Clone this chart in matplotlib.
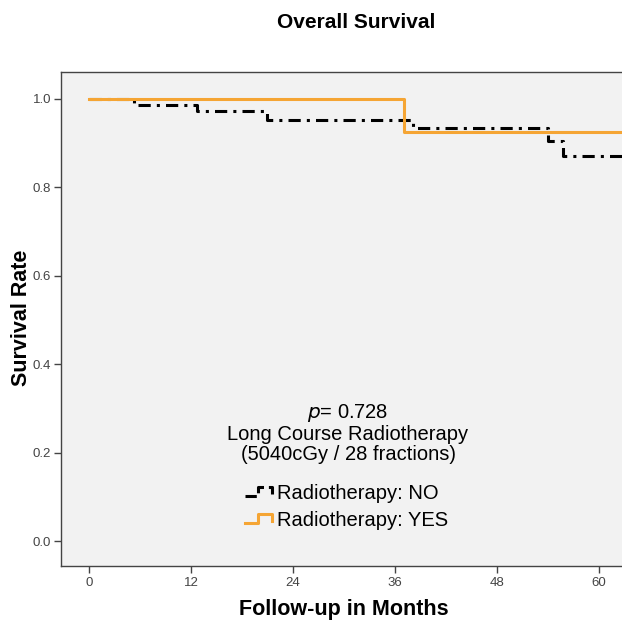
import matplotlib
matplotlib.use('Agg')
import matplotlib.pyplot as plt
from matplotlib.lines import Line2D
from matplotlib.legend_handler import HandlerBase

plt.rcParams['font.family'] = ['Liberation Sans', 'DejaVu Sans']

# Kaplan-Meier step data (months, survival)
no_times = [0, 5.3, 12.7, 20.9, 38.1, 54.0, 55.8, 70]
no_surv = [1.0, 0.986, 0.973, 0.952, 0.933, 0.903, 0.870, 0.870]

yes_times = [0, 37.1, 70]
yes_surv = [1.0, 0.924, 0.924]

x_ticks = [0, 12, 24, 36, 48, 60]
y_ticks = [0.0, 0.2, 0.4, 0.6, 0.8, 1.0]

p_text = '$\\it{p}$= 0.728'
note_lines = ['Long Course Radiotherapy', '(5040cGy / 28 fractions)']
group_labels = ['Radiotherapy: NO', 'Radiotherapy: YES']

orange = '#F5A534'


class StepHandler(HandlerBase):
    # draws the little step glyph used in the legend
    def create_artists(self, legend, orig_handle, xdescent, ydescent,
                       width, height, fontsize, trans):
        x0 = -xdescent
        y0 = -ydescent
        xs = [x0, x0 + 0.5 * width, x0 + 0.5 * width, x0 + width, x0 + width]
        ys = [y0 + 0.2 * height, y0 + 0.2 * height, y0 + 0.85 * height,
              y0 + 0.85 * height, y0 + 0.35 * height]
        ln = Line2D(xs, ys, color=orig_handle.get_color(),
                    linestyle=orig_handle.get_linestyle(),
                    linewidth=orig_handle.get_linewidth(), transform=trans)
        return [ln]


fig = plt.figure(figsize=(6.22, 6.24), dpi=100)
ax = fig.add_axes([61 / 622, 1 - 565.5 / 624, 1 - 61 / 622 + 0.01, (565.5 - 72) / 624])
ax.set_facecolor('#F2F2F2')

no_line, = ax.step(no_times, no_surv, where='post', color='black', linewidth=2.2,
                   linestyle=(0, (4, 2, 1, 2)), zorder=2)
yes_line, = ax.step(yes_times, yes_surv, where='post', color=orange, linewidth=2.2, zorder=3)

ax.set_xlim(-3.35, 63.5)
ax.set_ylim(-0.055, 1.06)
ax.set_xticks(x_ticks)
ax.set_yticks(y_ticks)
ax.set_yticklabels(['%.1f' % v for v in y_ticks])
ax.tick_params(labelsize=9.5, colors='#444444', length=5, width=1)
ax.tick_params(axis='x', pad=3)
ax.tick_params(axis='y', pad=2)
for side in ['left', 'bottom', 'top']:
    ax.spines[side].set_color('#444444')
    ax.spines[side].set_linewidth(1)
ax.spines['right'].set_visible(False)

ax.set_xlabel('Follow-up in Months', fontsize=15.5, fontweight='bold')
ax.set_ylabel('Survival Rate', fontsize=15.5, fontweight='bold')
ax.xaxis.set_label_coords(344 / 622, 1 - 610 / 624, transform=fig.transFigure)
ax.yaxis.set_label_coords(22 / 622, 1 - 318 / 624, transform=fig.transFigure)
ax.xaxis.label.set_va('center')
ax.yaxis.label.set_va('center')
fig.text(356 / 622, 1 - 22 / 624, 'Overall Survival', ha='center', va='center',
         fontsize=15, fontweight='bold')

ax.text(0.506, 0.268, p_text + '\n' + '\n'.join(note_lines), transform=ax.transAxes,
        ha='center', va='center', fontsize=14.5, linespacing=1.05)

leg = ax.legend([no_line, yes_line], group_labels, loc='center left',
                bbox_to_anchor=(0.306, 0.119), frameon=False, fontsize=14.5,
                handler_map={Line2D: StepHandler()}, handlelength=1.35,
                handletextpad=0.25, labelspacing=0.4, borderpad=0)

fig.savefig('out.png', dpi=100)
